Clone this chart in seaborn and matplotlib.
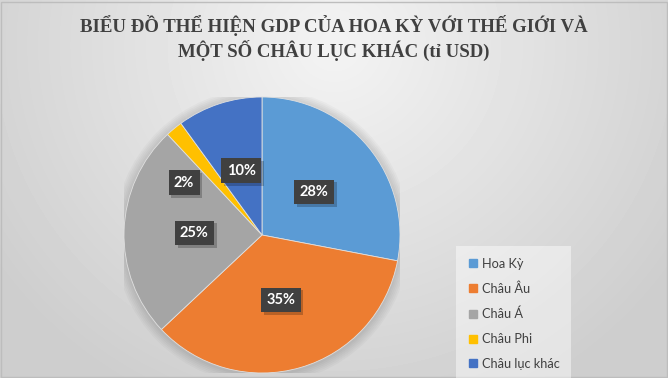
import numpy as np
import matplotlib
matplotlib.use("Agg")
import matplotlib.pyplot as plt
import matplotlib.patheffects as pe
import seaborn as sns
from matplotlib.lines import Line2D
from matplotlib.patches import Rectangle, Circle

# ---- data ----
categories = ["Hoa Kỳ", "Châu Âu", "Châu Á", "Châu Phi", "Châu lục khác"]
shares = [28, 35, 25, 2, 10]
slice_colors = ["#5B9BD5", "#ED7D31", "#A5A5A5", "#FFC000", "#4472C4"]
title_lines = ["BIỂU ĐỒ THỂ HIỆN GDP CỦA HOA KỲ VỚI THẾ GIỚI VÀ",
               "MỘT SỐ CHÂU LỤC KHÁC (tỉ USD)"]

sns.set_theme(style="white")
plt.rcParams['font.family'] = ['Lato', 'DejaVu Sans']
palette = sns.color_palette(slice_colors)

W, H = 668, 378
fig = plt.figure(figsize=(W / 100, H / 100), dpi=100)

# background gradient
bg = fig.add_axes([0, 0, 1, 1])
bg.set_axis_off()
yy, xx = np.mgrid[0:H, 0:W]
d = np.sqrt(((xx - W * 0.5) / (W * 0.62)) ** 2 + ((yy - H * 0.12) / (H * 1.05)) ** 2)
val = 0.955 - 0.15 * np.clip(d, 0, 1)
bg.imshow(val, cmap='gray', vmin=0, vmax=1, extent=[0, 1, 0, 1],
          aspect='auto', origin='upper', interpolation='bilinear')
bg.set_xlim(0, 1)
bg.set_ylim(0, 1)
bg.add_patch(Rectangle((0.001, 0.002), 0.997, 0.993, fill=False,
                       ec='#bdbdbd', lw=1.0, transform=bg.transAxes))

# title
for i, line in enumerate(title_lines):
    fig.text(0.5, 1 - (25 + 25 * i) / H, line, ha='center', va='center',
             fontsize=13.6, fontweight='bold', color='#404040',
             family=['Liberation Serif', 'DejaVu Serif'])

# pie
ax = fig.add_axes([124 / W, (H - 373) / H, 276 / W, 276 / H])
for k in range(6):
    ax.add_patch(Circle((0.0, -0.01), 1.0 + 0.012 * (k + 1), fc='#000000',
                        alpha=0.025, ec='none', zorder=0))
wedges, _ = ax.pie(shares, colors=palette, startangle=90, counterclock=False,
                   wedgeprops=dict(linewidth=0.6, edgecolor='#e0e0e0'))
ax.set_xlim(-1, 1)
ax.set_ylim(-1, 1)
ax.set_aspect('equal')
ax.set_axis_off()

total = sum(shares)
for w, v in zip(wedges, shares):
    mid = np.deg2rad((w.theta1 + w.theta2) / 2)
    r = 0.49
    if v / total < 0.05:
        r = 0.68
        mid = mid + np.deg2rad(16.5)
    x, y = r * np.cos(mid), r * np.sin(mid)
    t = ax.text(x, y, f"{v / total * 100:.0f}%", ha='center', va='center',
                fontsize=10.5, fontweight='bold', color='white',
                bbox=dict(boxstyle='square,pad=0.36', fc='#404040', ec='none'))
    t.get_bbox_patch().set_path_effects(
        [pe.SimplePatchShadow(offset=(2, -2), shadow_rgbFace='black', alpha=0.22),
         pe.Normal()])

# legend
handles = [Line2D([0], [0], marker='s', linestyle='none', markersize=6,
                  markerfacecolor=c, markeredgecolor=c) for c in palette]
leg = fig.legend(handles, categories, loc='upper left',
                 bbox_to_anchor=(460 / W, 1 - 250 / H), frameon=True,
                 fontsize=9.2, labelspacing=1.0, handlelength=0.8,
                 handletextpad=0.3, borderpad=0.6, borderaxespad=0)
leg.get_frame().set_facecolor('#ffffff')
leg.get_frame().set_alpha(0.45)
leg.get_frame().set_edgecolor('none')
leg.get_frame().set_boxstyle('square')
for t in leg.get_texts():
    t.set_color('#404040')

fig.savefig("out.png", dpi=100)
